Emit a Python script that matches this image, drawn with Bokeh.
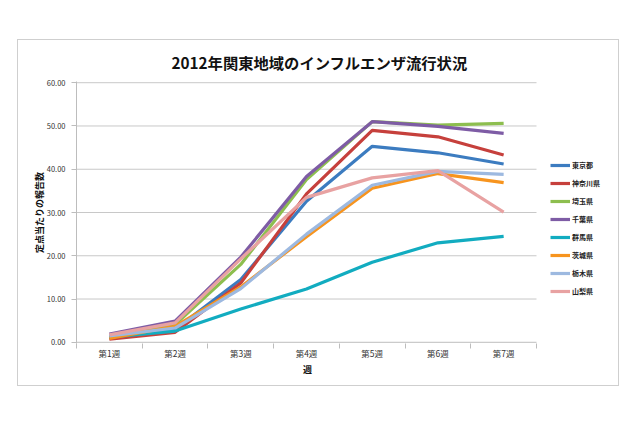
from bokeh.plotting import figure
from bokeh.models import (FixedTicker, NumeralTickFormatter, Legend, LegendItem, Range1d)
from bokeh.embed import file_html
from bokeh.resources import INLINE

weeks = ["第1週", "第2週", "第3週", "第4週", "第5週", "第6週", "第7週"]
prefectures = ["東京都", "神奈川県", "埼玉県", "千葉県", "群馬県", "茨城県", "栃木県", "山梨県"]
tokyo = [1.0, 3.0, 14.5, 32.6, 45.3, 43.8, 41.2]
kanagawa = [0.7, 2.3, 13.7, 34.3, 49.0, 47.5, 43.3]
saitama = [1.3, 4.1, 18.0, 37.6, 51.0, 50.2, 50.6]
chiba = [1.9, 4.9, 19.7, 38.3, 51.0, 49.9, 48.3]
gunma = [1.2, 2.6, 7.7, 12.3, 18.5, 23.0, 24.5]
ibaraki = [0.9, 3.7, 12.8, 24.4, 35.6, 39.0, 36.9]
tochigi = [1.5, 3.3, 12.4, 25.0, 36.3, 39.5, 38.8]
yamanashi = [1.7, 4.5, 19.3, 33.5, 38.0, 39.7, 30.1]
series = [tokyo, kanagawa, saitama, chiba, gunma, ibaraki, tochigi, yamanashi]
colors = ["#3C7CC0", "#C6403C", "#8DBE4F", "#7E5CA5", "#12ACC0", "#F7941E", "#9DB9E0", "#E8A2A2"]
y_ticks = [0, 10, 20, 30, 40, 50, 60]

FONT = "Noto Sans CJK JP"
xs = list(range(1, len(weeks) + 1))
x_lo, x_hi = 0.5, len(weeks) + 0.5

# plot area of the lines is 460px wide; the frame extends further right to hold the legend
FRAME_W = 600 - 58 - 8
x_end = x_lo + (x_hi - x_lo) * FRAME_W / 460.0

p = figure(width=600, height=345, output_backend="svg", toolbar_location=None,
           x_range=Range1d(x_lo, x_end), y_range=Range1d(-0.28, 60.28),
           min_border_left=58, min_border_right=8, min_border_top=40, min_border_bottom=42,
           title="2012年関東地域のインフルエンザ流行状況")
p.margin = (40, 0, 0, 18)
p.styles = {"outline": "1.5px solid #cfcfcf"}
p.outline_line_color = None
p.background_fill_color = "white"
p.border_fill_color = "white"

p.title.align = "left"
p.title.offset = 95
p.title.standoff = 17
p.title.text_font = FONT
p.title.text_font_size = "15.3px"
p.title.text_font_style = "bold"
p.title.text_color = "#111111"

# axes
p.xaxis.ticker = FixedTicker(ticks=xs, minor_ticks=[x - 0.5 for x in xs] + [x_hi])
p.xaxis.major_label_overrides = {x: w for x, w in zip(xs, weeks)}
p.xaxis.axis_line_color = None
p.xaxis.major_tick_out = 0
p.xaxis.major_tick_in = 0
p.xaxis.minor_tick_out = 5
p.xaxis.minor_tick_in = 0
p.xaxis.minor_tick_line_color = "#bdbdbd"
p.xaxis.major_label_standoff = -2
p.xaxis.axis_label = "週" + "\u3000" * 8
p.xaxis.axis_label_standoff = 1

p.yaxis.ticker = FixedTicker(ticks=y_ticks)
p.yaxis.formatter = NumeralTickFormatter(format="0.00")
p.yaxis.axis_line_color = "#bdbdbd"
p.yaxis.major_tick_line_color = "#bdbdbd"
p.yaxis.major_tick_out = 5
p.yaxis.major_tick_in = 0
p.yaxis.minor_tick_out = 0
p.yaxis.minor_tick_in = 0
p.yaxis.major_label_standoff = 6
p.yaxis.axis_label = "定点当たりの報告数"
p.yaxis.axis_label_standoff = -2

for ax in (p.xaxis[0], p.yaxis[0]):
    ax.major_label_text_font = FONT
    ax.major_label_text_font_size = "8.5px"
    ax.major_label_text_color = "#333333"
    ax.axis_label_text_font = FONT
    ax.axis_label_text_font_size = "9px"
    ax.axis_label_text_font_style = "bold"
    ax.axis_label_text_color = "#111111"
p.yaxis.major_label_text_font_size = "7.5px"

p.xgrid.grid_line_color = None
p.ygrid.grid_line_color = None

# horizontal grid lines (and the category axis line at 0) only across the data area
p.segment(x0=[x_lo] * len(y_ticks), x1=[x_hi] * len(y_ticks), y0=y_ticks, y1=y_ticks,
          line_color=["#bdbdbd"] + ["#c8c8c8"] * (len(y_ticks) - 1), line_width=1)

items = []
for name, vals, c in zip(prefectures, series, colors):
    r = p.line(xs, vals, line_color=c, line_width=3.2, line_join="round")
    items.append(LegendItem(label=name, renderers=[r]))

legend = Legend(items=items, location=(474, 43), orientation="vertical")
legend.glyph_width = 20
legend.glyph_height = 18
legend.label_height = 18
legend.spacing = 0
legend.padding = 0
legend.margin = 0
legend.label_standoff = 2
legend.border_line_color = None
legend.background_fill_alpha = 0
legend.label_text_font = FONT
legend.label_text_font_size = "7px"
legend.label_text_font_style = "bold"
legend.label_text_color = "#222222"
p.add_layout(legend, "center")

open("out.html", "w").write(file_html(p, INLINE))
